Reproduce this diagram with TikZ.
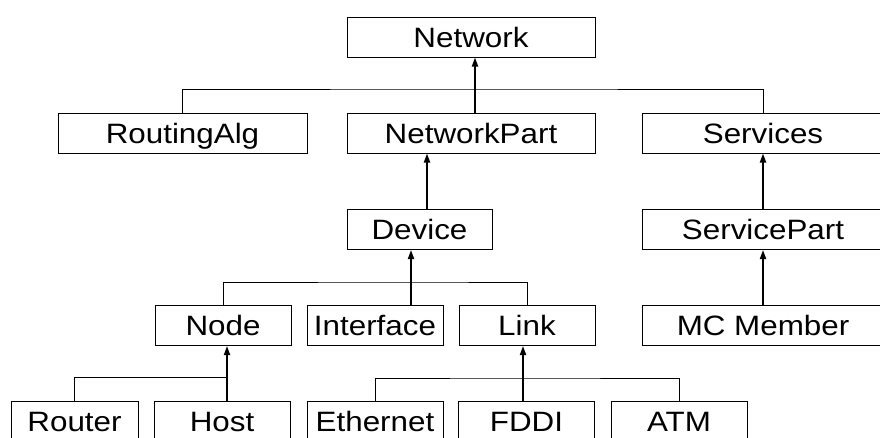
\documentclass[tikz,border=0pt]{standalone}
\usepackage{fontspec}
\setmainfont{Liberation Sans}[FakeStretch=1.12]
\usepackage{tikz}
\usetikzlibrary{arrows.meta}

\begin{document}
\begin{tikzpicture}[
  x=1pt, y=-1pt,
  box/.style={draw, line width=1pt, minimum width=136pt, minimum height=40pt, inner sep=0pt,
    text height=20pt, text depth=0pt, font=\fontsize{28}{32}\selectfont},
  wide/.style={box, minimum width=248pt},
  link/.style={line width=1pt},
  arrow/.style={-{Triangle[length=9pt, width=6pt]}, line width=1.8pt}
]
  \useasboundingbox (0,0) rectangle (880,437);
  \clip (0,0) rectangle (880,437);

  % top levels
  \node[wide] (net) at (471,37) {Network};
  \node[wide, minimum width=249pt] (ralg) at (182.5,133) {RoutingAlg};
  \node[wide] (npart) at (471,133) {NetworkPart};
  \node[wide, minimum width=242pt] (serv) at (763,133) {Services};
  \node[box, minimum width=145pt] (dev) at (419.5,229.5) {Device};
  \node[wide, minimum width=242pt] (spart) at (763,229.5) {ServicePart};
  \node[box] (nd) at (223,325.5) {Node};
  \node[box] (intf) at (375,325.5) {Interface};
  \node[box] (lnk) at (527,325.5) {Link};
  \node[wide, minimum width=242pt] (mcm) at (763,325.5) {MC Member};
  % leaves
  \node[box, minimum width=127pt] (rout) at (74.5,421) {Router};
  \node[box] (host) at (222,421) {Host};
  \node[box] (eth) at (375,421) {Ethernet};
  \node[box] (fddi) at (526.5,421) {FDDI};
  \node[box] (atm) at (679,421) {ATM};

  % junctions of the trees
  \coordinate (jnet) at (475,89);
  \coordinate (jdev) at (411,282);
  \coordinate (jnd) at (227,377);
  \coordinate (jlnk) at (523,378);
  \coordinate (updev) at (427,0);

  \draw[link] (ralg.north) |- (jnet) -| (serv.north);
  \draw[arrow] (npart.north -| jnet) -- (net.south -| jnet);
  \draw[arrow] (dev.north -| updev) -- (npart.south -| updev);
  \draw[arrow] (spart.north) -- (serv.south);
  \draw[arrow] (mcm.north) -- (spart.south);

  \draw[link] (nd.north) |- (jdev) -| (lnk.north);
  \draw[arrow] (intf.north -| jdev) -- (dev.south -| jdev);

  \draw[link] (rout.north) |- (jnd);
  \draw[arrow] (host.north -| jnd) -- (nd.south -| jnd);

  \draw[link] (eth.north) |- (jlnk) -| (atm.north);
  \draw[arrow] (fddi.north -| jlnk) -- (lnk.south -| jlnk);
\end{tikzpicture}
\end{document}
